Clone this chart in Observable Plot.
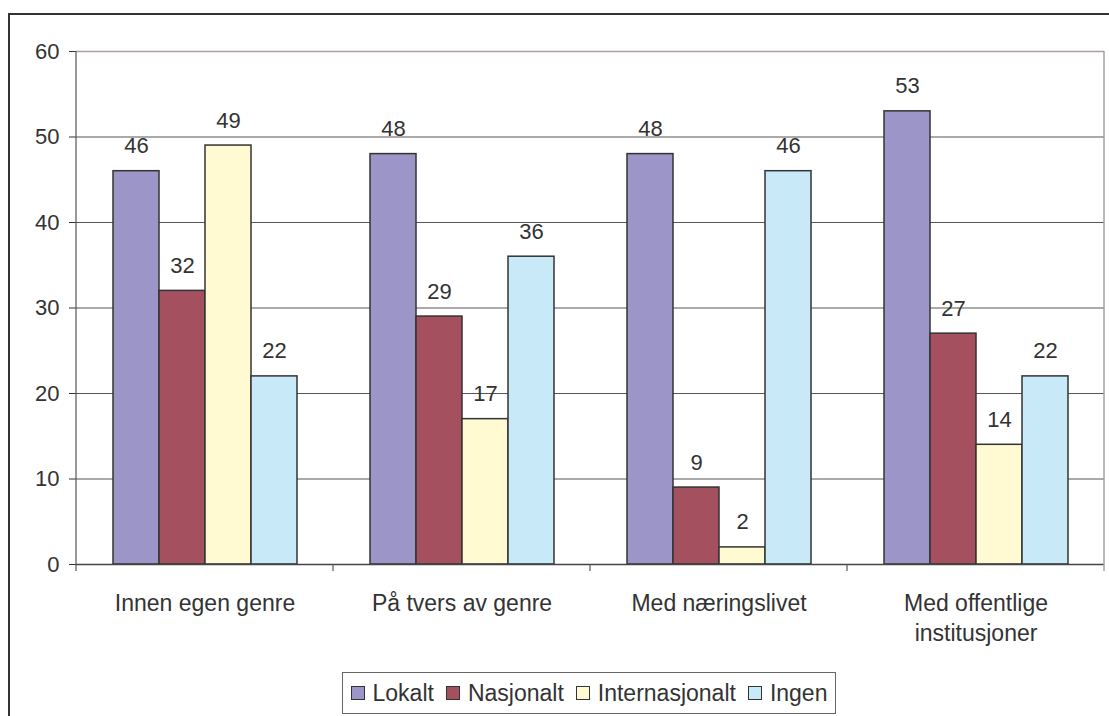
<!DOCTYPE html>
<html>
<head>
<meta charset="utf-8">
<script src="https://cdn.jsdelivr.net/npm/d3@7"></script>
<script src="https://cdn.jsdelivr.net/npm/@observablehq/plot@0.6"></script>
<style>
  body { margin: 0; background: #fff; overflow: hidden; font-family: "Liberation Sans", Arial, sans-serif; }
  #wrap { position: relative; width: 1109px; height: 716px; overflow: hidden; background: #fff; }
  #frame { position: absolute; left: 8px; top: 13px; width: 1400px; height: 1000px; border-left: 2px solid #333; border-top: 2px solid #333; }
  #chart { position: absolute; left: 0; top: 0; }
  #legend { position: absolute; left: 342px; top: 672px; width: 494px; height: 42px; border: 1.5px solid #666; background: #fff;
            display: flex; align-items: center; justify-content: center; font-size: 23px; color: #333; box-sizing: border-box; }
  .item { display: flex; align-items: center; margin: 0 6px; }
  .sw { width: 12px; height: 12px; border: 1px solid #333; margin-right: 8px; }
</style>
</head>
<body>
<div id="wrap">
  <div id="frame"></div>
  <div id="chart"></div>
  <div id="legend"></div>
</div>
<script>
const categories = ["Innen egen genre", "På tvers av genre", "Med næringslivet", "Med offentlige\ninstitusjoner"];
const series = ["Lokalt", "Nasjonalt", "Internasjonalt", "Ingen"];
const colors = ["#9c96c8", "#a4505f", "#fffad2", "#c8eaf8"];
const lokalt = [46, 48, 48, 53];
const nasjonalt = [32, 29, 9, 27];
const internasjonalt = [49, 17, 2, 14];
const ingen = [22, 36, 46, 22];
const yTicks = [0, 10, 20, 30, 40, 50, 60];

const seriesValues = [lokalt, nasjonalt, internasjonalt, ingen];
const data = categories.flatMap((c, i) =>
  seriesValues.map((arr, j) => ({category: c, series: series[j], value: arr[i]}))
);

const plot = Plot.plot({
  width: 1109,
  height: 660,
  marginLeft: 74,
  marginRight: 4,
  marginTop: 51,
  marginBottom: 96,
  style: {fontFamily: "Liberation Sans, Arial, sans-serif", fontSize: "22px", color: "#333", background: "transparent"},
  fx: {domain: categories, padding: 0, axis: null, label: null},
  x: {domain: series, paddingInner: 0, paddingOuter: 0.745, axis: null},
  y: {domain: [0, 60], ticks: yTicks, tickSize: 7, tickPadding: 10, label: null, tickFormat: d => String(d)},
  color: {domain: series, range: colors},
  marks: [
    Plot.gridY(yTicks.slice(1, -1), {stroke: "#555", strokeOpacity: 1, strokeWidth: 1}),
    Plot.ruleY([60], {stroke: "#aaa0a0", strokeWidth: 1.5}),
    Plot.barY(data, {fx: "category", x: "series", y: "value", fill: "series", stroke: "#333", strokeWidth: 1.5}),
    Plot.ruleY([0], {stroke: "#444", strokeWidth: 1.5}),
    Plot.text(data, {fx: "category", x: "series", y: "value", text: d => String(d.value), dy: -25, lineAnchor: "middle", fill: "#333", fontSize: 22}),
    Plot.text(categories, {fx: d => d, text: d => d, frameAnchor: "bottom", lineAnchor: "top", dy: 25, lineHeight: 1.3, fill: "#333", fontSize: 23})
  ]
});
document.getElementById("chart").appendChild(plot);

// axis line, right border and category separators drawn from the plot's own scales
const fx = plot.scale("fx");
const y = plot.scale("y");
const svg = d3.select(plot);
const y0 = y.apply(0), yTop = y.apply(60);
const bounds = categories.map(c => fx.apply(c)).concat([fx.apply(categories[categories.length - 1]) + fx.bandwidth]);
bounds.forEach((bx, i) => {
  const first = i === 0, last = i === bounds.length - 1;
  svg.append("line")
    .attr("x1", bx).attr("x2", bx)
    .attr("y1", first || last ? yTop : y0).attr("y2", y0 + 7)
    .attr("stroke", last ? "#a89f9f" : "#555")
    .attr("stroke-width", last ? 1.5 : 1.2);
});

const legend = d3.select("#legend");
series.forEach((s, i) => {
  const it = legend.append("div").attr("class", "item");
  it.append("div").attr("class", "sw").style("background", colors[i]);
  it.append("span").text(s);
});
</script>
</body>
</html>
